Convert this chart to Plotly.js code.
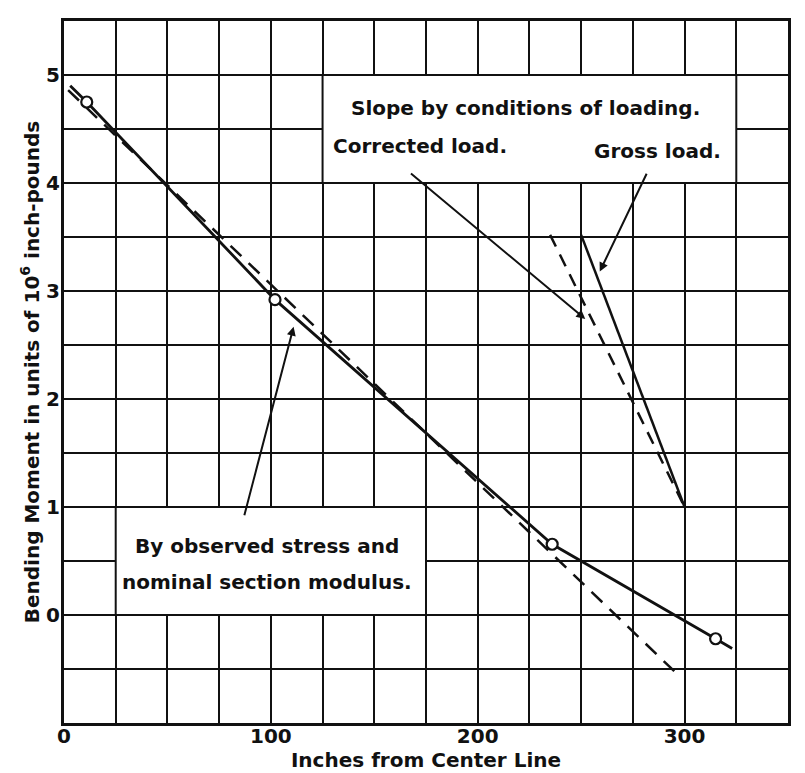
<!DOCTYPE html>
<html>
<head>
<meta charset="utf-8">
<script src="https://cdn.plot.ly/plotly-3.0.1.min.js"></script>
<style>html,body{margin:0;padding:0;background:#fff;}#chart{width:805px;height:773px;}</style>
</head>
<body>
<div id="chart"></div>
<script>
// Observed bending moment points (inches from center line, 10^6 in-lb)
const pointX = [11, 102, 236, 315];
const pointY = [4.75, 2.92, 0.655, -0.22];
// Solid line through observed points
const observedLineX = [3, 11, 102, 236, 315, 323];
const observedLineY = [4.9, 4.75, 2.92, 0.655, -0.22, -0.31];
// Dashed fitted line
const dashedX = [2, 295];
const dashedY = [4.86, -0.52];
// Slope by conditions of loading
const correctedX = [235, 300];
const correctedY = [3.52, 1.0];
const grossX = [250, 300];
const grossY = [3.52, 1.0];
// Tick labels
const xTickVals = [0, 100, 200, 300];
const xTickText = ['0', '100', '200', '300'];
const yTickVals = [0, 1, 2, 3, 4, 5];
const yTickText = ['0', '1', '2', '3', '4', '5'];

const FONT = {family: 'DejaVu Sans, sans-serif', size: 20, color: '#111', weight: 'bold'};
const INK = '#111';

const traces = [
  {x: dashedX, y: dashedY, mode: 'lines', line: {color: INK, width: 2.5, dash: '15px,10px'}, showlegend: false, hoverinfo: 'skip'},
  {x: correctedX, y: correctedY, mode: 'lines', line: {color: INK, width: 2.5, dash: '13px,9px'}, showlegend: false, hoverinfo: 'skip'},
  {x: grossX, y: grossY, mode: 'lines', line: {color: INK, width: 2.5}, showlegend: false, hoverinfo: 'skip'},
  {x: observedLineX, y: observedLineY, mode: 'lines', line: {color: INK, width: 2.8}, showlegend: false, hoverinfo: 'skip'},
  {x: pointX, y: pointY, mode: 'markers', marker: {symbol: 'circle', size: 11, color: '#fff', line: {color: INK, width: 2.2}}, showlegend: false}
];

function arrow(tipX, tipY, tailX, tailY) {
  return {x: tipX, y: tipY, ax: tailX, ay: tailY, xref: 'x', yref: 'y', axref: 'x', ayref: 'y',
          text: '', showarrow: true, arrowhead: 2, arrowsize: 0.9, arrowwidth: 2, arrowcolor: INK};
}
function label(txt, x, y) {
  return {x: x, y: y, xref: 'x', yref: 'y', text: txt, showarrow: false, font: FONT, xanchor: 'center', yanchor: 'middle'};
}

const layout = {
  width: 805, height: 773,
  margin: {l: 64, r: 17, t: 21, b: 50},
  paper_bgcolor: '#fff', plot_bgcolor: '#fff',
  font: FONT,
  xaxis: {
    range: [0, 350], tickvals: xTickVals, ticktext: xTickText, ticks: '',
    ticklabelstandoff: -7,
    showgrid: true, gridcolor: INK, gridwidth: 2, zeroline: false,
    showline: true, mirror: true, linecolor: INK, linewidth: 3,
    minor: {tick0: 0, dtick: 25, showgrid: true, gridcolor: INK, gridwidth: 2},
    tickfont: FONT,
    title: {text: 'Inches from Center Line', font: FONT, standoff: 3},
    automargin: false, fixedrange: true
  },
  yaxis: {
    range: [-1, 5.5], tickvals: yTickVals, ticktext: yTickText, ticks: '',
    ticklabelstandoff: -3,
    showgrid: true, gridcolor: INK, gridwidth: 2, zeroline: false,
    showline: true, mirror: true, linecolor: INK, linewidth: 3,
    minor: {tick0: 0, dtick: 0.5, showgrid: true, gridcolor: INK, gridwidth: 2},
    tickfont: FONT,
    title: {text: 'Bending Moment in units of 10<sup>6</sup> inch-pounds', font: FONT, standoff: 2},
    automargin: false, fixedrange: true
  },
  shapes: [
    {type: 'rect', xref: 'x', yref: 'y', x0: 125, x1: 325, y0: 4, y1: 5, fillcolor: '#fff', line: {color: INK, width: 2}, layer: 'between'},
    {type: 'rect', xref: 'x', yref: 'y', x0: 25, x1: 175, y0: 0, y1: 1, fillcolor: '#fff', line: {color: INK, width: 2}, layer: 'between'}
  ],
  annotations: [
    label('Slope by conditions of loading.', 223, 4.69),
    label('Corrected load.', 172, 4.34),
    label('Gross load.', 287, 4.3),
    label('By observed stress and', 98, 0.64),
    label('nominal section modulus.', 98, 0.31),
    arrow(252, 2.74, 167, 4.1),
    arrow(259, 3.18, 282, 4.1),
    arrow(111, 2.67, 87, 0.91)
  ]
};

Plotly.newPlot('chart', traces, layout, {staticPlot: true, displayModeBar: false});
</script>
</body>
</html>
